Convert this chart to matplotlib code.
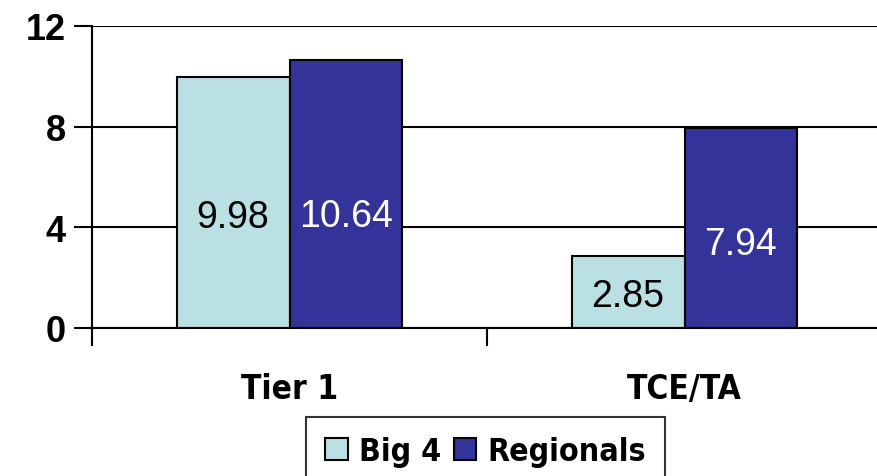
import numpy as np
import matplotlib.pyplot as plt
from matplotlib import font_manager as fm

# capital ratios, percent
categories = ["Tier 1", "TCE/TA"]
big4 = [9.98, 2.85]
regionals = [10.64, 7.94]
series_names = ["Big 4", "Regionals"]
yticks = [0, 4, 8, 12]

names = {f.name for f in fm.fontManager.ttflist}
narrow = "Liberation Sans Narrow" if "Liberation Sans Narrow" in names else "DejaVu Sans"

fig = plt.figure(figsize=(8.78, 4.77), dpi=100)
ax = fig.add_axes([92 / 878, 1 - 329 / 477, 790 / 878, 302 / 477])

x = np.arange(len(categories))
w = 0.286
b1 = ax.bar(x - w / 2, big4, w, color="#BBE0E3", edgecolor="black", linewidth=1.5, zorder=3)
b2 = ax.bar(x + w / 2, regionals, w, color="#333399", edgecolor="black", linewidth=1.5, zorder=3)

for xi, v in zip(x - w / 2, big4):
    ax.text(xi, v * 0.44, f"{v:.2f}", ha="center", va="center", fontsize=27,
            family="Liberation Sans", color="black", zorder=4)
for xi, v in zip(x + w / 2, regionals):
    ax.text(xi, v * 0.42, f"{v:.2f}", ha="center", va="center", fontsize=27,
            family="Liberation Sans", color="white", zorder=4)

ax.set_xlim(-0.5, 1.5)
ax.set_ylim(0, 12)
ax.set_yticks(yticks)
ax.set_yticklabels([str(t) for t in yticks], fontsize=26, family="Liberation Sans",
                   fontweight="bold")
ax.yaxis.grid(True, color="black", linewidth=1.5, zorder=0)

ax.set_xticks([-0.5, 0.5, 1.5])
ax.set_xticklabels([])
ax.set_xticks(x, minor=True)
ax.set_xticklabels(categories, minor=True, fontsize=24, family=narrow,
                   fontstretch="condensed", fontweight="bold")
ax.tick_params(axis="x", which="minor", length=0, pad=32)
ax.tick_params(axis="x", which="major", length=13, width=1.5, direction="out")
ax.tick_params(axis="y", length=13, width=1.5, direction="out", pad=6)

for s in ["top", "right"]:
    ax.spines[s].set_visible(False)
for s in ["left", "bottom"]:
    ax.spines[s].set_linewidth(1.5)
    ax.spines[s].set_zorder(5)

leg = fig.legend([b1, b2], series_names, loc="upper left",
                 bbox_to_anchor=(306 / 878, 1 - 418 / 477), ncol=2,
                 frameon=True, fancybox=False, edgecolor="black",
                 prop={"family": narrow, "stretch": "condensed", "size": 23, "weight": "bold"},
                 handlelength=0.7, handleheight=0.7, handletextpad=0.35,
                 columnspacing=0.4, borderpad=0.6, borderaxespad=0)
leg.get_frame().set_linewidth(1.5)

fig.savefig("out.png", dpi=100)
